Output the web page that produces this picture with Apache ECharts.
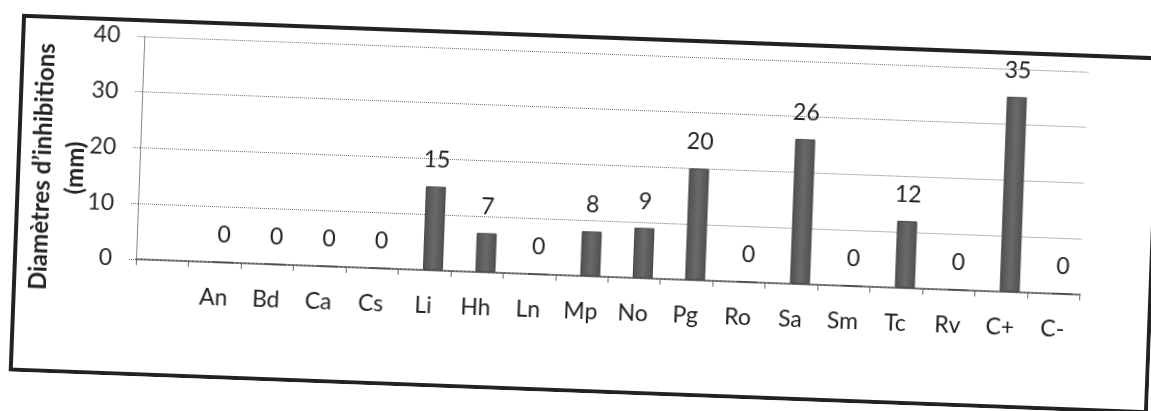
<!DOCTYPE html>
<html>
<head>
<meta charset="utf-8">
<script src="https://cdn.jsdelivr.net/npm/echarts@6/dist/echarts.min.js"></script>
<style>
  html, body { margin: 0; padding: 0; background: #ffffff; width: 1151px; height: 411px; overflow: hidden; }
  #chart { position: absolute; left: 15px; top: 35px; width: 1140px; height: 358px;
           transform: rotate(2.15deg); transform-origin: 50% 50%; }
</style>
</head>
<body>
<div id="chart"></div>
<script>
// ---- data ----
const categories = ['', 'An', 'Bd', 'Ca', 'Cs', 'Li', 'Hh', 'Ln', 'Mp', 'No', 'Pg', 'Ro', 'Sa', 'Sm', 'Tc', 'Rv', 'C+', 'C-'];
const values = [null, 0, 0, 0, 0, 15, 7, 0, 8, 9, 20, 0, 26, 0, 12, 0, 35, 0];
const yMin = 0, yMax = 40, yInterval = 10;
const yAxisTitle = 'Diamètres d\u2019inhibitions\n(mm)';

const FONT = 'Lato, "Noto Sans", sans-serif';
const chart = echarts.init(document.getElementById('chart'), null, { renderer: 'canvas' });

const gridLine = { color: '#707070', width: 1, type: 'dotted' };

chart.setOption({
  animation: false,
  backgroundColor: '#ffffff',
  textStyle: { fontFamily: FONT },
  grid: [
    { left: 123, right: 72.5, top: 18, bottom: 117.2, containLabel: false },
    { left: 131.5, right: 64, top: 18, bottom: 117.2, containLabel: false }
  ],
  xAxis: [
    {
      gridIndex: 0, type: 'category', data: categories, boundaryGap: true,
      axisLine: { show: true, lineStyle: { color: '#666', width: 2, type: 'dotted' } },
      axisTick: { show: true, length: 6, lineStyle: { color: '#666', width: 1 } },
      axisLabel: { margin: 24, fontSize: 23, color: '#222', fontFamily: FONT, interval: 0 },
      splitLine: { show: false }
    },
    {
      gridIndex: 1, type: 'category', data: categories, boundaryGap: true, show: false
    }
  ],
  yAxis: [
    {
      gridIndex: 0, type: 'value', min: yMin, max: yMax, interval: yInterval,
      axisLine: { show: true, lineStyle: gridLine },
      axisTick: { show: true, length: 8, lineStyle: gridLine },
      axisLabel: { margin: 24, fontSize: 23, color: '#2a2a2a', fontFamily: FONT },
      splitLine: { show: true, lineStyle: gridLine }
    },
    {
      gridIndex: 1, type: 'value', min: yMin, max: yMax, interval: yInterval, show: false,
      splitLine: { show: false }
    }
  ],
  series: [
    {
      type: 'bar', xAxisIndex: 1, yAxisIndex: 1, data: values, barWidth: 20,
      itemStyle: {
        color: new echarts.graphic.LinearGradient(0, 0, 1, 0, [
          { offset: 0, color: '#505050' },
          { offset: 0.5, color: '#6a6a6a' },
          { offset: 1, color: '#505050' }
        ]),
        borderColor: '#444', borderWidth: 1
      },
      label: {
        show: true, position: 'top', distance: 15, fontSize: 23, color: '#222', fontFamily: FONT,
        formatter: p => (p.value === null || p.value === undefined ? '' : String(p.value))
      }
    }
  ],
  graphic: [
    {
      type: 'rect', silent: true,
      shape: { x: 2, y: 2, width: 1136, height: 354 },
      style: { fill: 'none', stroke: '#222', lineWidth: 4 }
    },
    {
      type: 'text', silent: true,
      x: 43, y: 152, rotation: Math.PI / 2,
      style: {
        text: yAxisTitle, fontSize: 24, fontWeight: 'bold', fill: '#222', fontFamily: FONT,
        align: 'center', verticalAlign: 'middle', lineHeight: 33
      }
    }
  ]
});
</script>
</body>
</html>
